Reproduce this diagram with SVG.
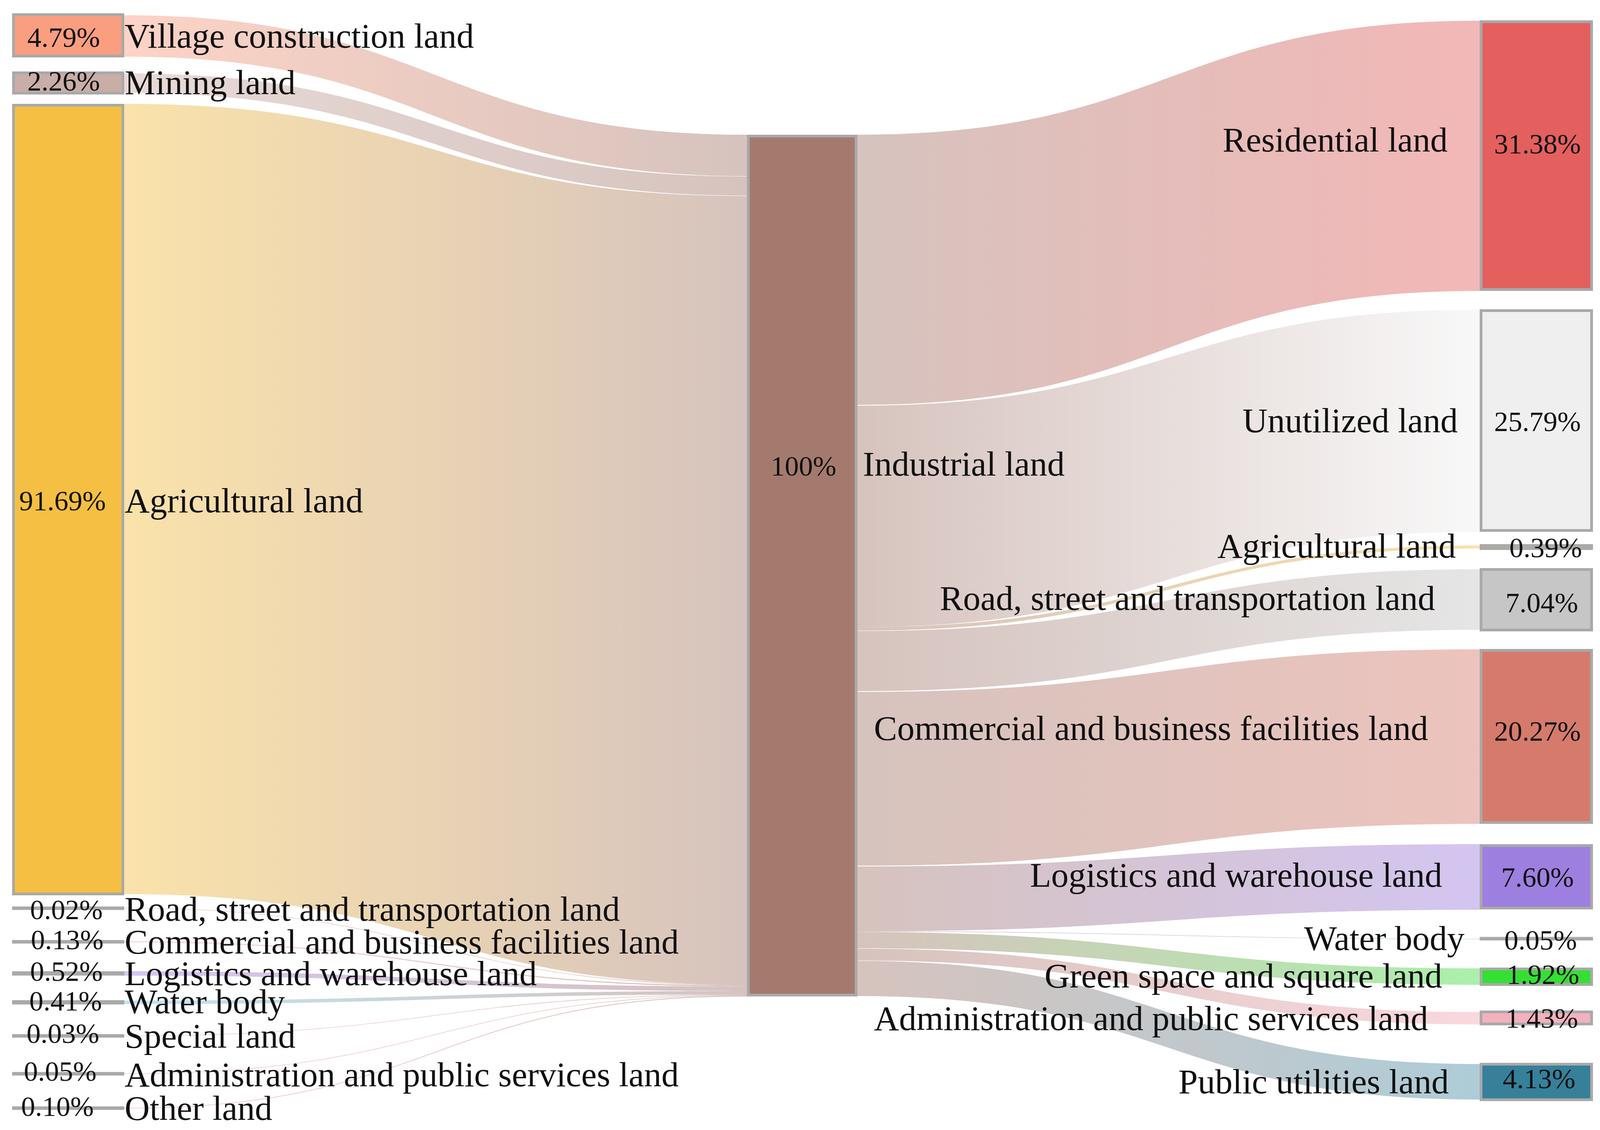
<svg xmlns="http://www.w3.org/2000/svg" width="4106" height="2894" viewBox="0 0 4106 2894">
<style>
.lk{fill-opacity:.45;stroke:none}
.nd{stroke:#A9A9A9;stroke-width:7}
.lb{font-family:"Liberation Serif","Times New Roman",serif;font-size:89px;fill:#111}
.pc{font-family:"Liberation Serif","Times New Roman",serif;font-size:72px;fill:#111;text-anchor:middle}
.r{text-anchor:end}
</style>
<defs>
<linearGradient id="gV" gradientUnits="userSpaceOnUse" x1="318" y1="0" x2="1912" y2="0"><stop offset="0" stop-color="#FA9E80"/><stop offset="1" stop-color="#A57A6E"/></linearGradient>
<linearGradient id="gM" gradientUnits="userSpaceOnUse" x1="318" y1="0" x2="1912" y2="0"><stop offset="0" stop-color="#C9ADA7"/><stop offset="1" stop-color="#A57A6E"/></linearGradient>
<linearGradient id="gA" gradientUnits="userSpaceOnUse" x1="318" y1="0" x2="1912" y2="0"><stop offset="0" stop-color="#F4BF42"/><stop offset="1" stop-color="#A57A6E"/></linearGradient>
<linearGradient id="gLr" gradientUnits="userSpaceOnUse" x1="318" y1="0" x2="1912" y2="0"><stop offset="0" stop-color="#E8A8A8"/><stop offset="1" stop-color="#A57A6E"/></linearGradient>
<linearGradient id="gLl" gradientUnits="userSpaceOnUse" x1="318" y1="0" x2="1912" y2="0"><stop offset="0" stop-color="#9D7FE0"/><stop offset="1" stop-color="#A57A6E"/></linearGradient>
<linearGradient id="gLw" gradientUnits="userSpaceOnUse" x1="318" y1="0" x2="1912" y2="0"><stop offset="0" stop-color="#6EC3E6"/><stop offset="1" stop-color="#A57A6E"/></linearGradient>
<linearGradient id="gRr" gradientUnits="userSpaceOnUse" x1="2195" y1="0" x2="3788" y2="0"><stop offset="0" stop-color="#A57A6E"/><stop offset="1" stop-color="#E3605E"/></linearGradient>
<linearGradient id="gRu" gradientUnits="userSpaceOnUse" x1="2195" y1="0" x2="3788" y2="0"><stop offset="0" stop-color="#A57A6E"/><stop offset="1" stop-color="#F0F0F0"/></linearGradient>
<linearGradient id="gRa" gradientUnits="userSpaceOnUse" x1="2195" y1="0" x2="3788" y2="0"><stop offset="0" stop-color="#A57A6E"/><stop offset="1" stop-color="#F4BF42"/></linearGradient>
<linearGradient id="gRt" gradientUnits="userSpaceOnUse" x1="2195" y1="0" x2="3788" y2="0"><stop offset="0" stop-color="#A57A6E"/><stop offset="1" stop-color="#C6C6C6"/></linearGradient>
<linearGradient id="gRc" gradientUnits="userSpaceOnUse" x1="2195" y1="0" x2="3788" y2="0"><stop offset="0" stop-color="#A57A6E"/><stop offset="1" stop-color="#D67B6C"/></linearGradient>
<linearGradient id="gRl" gradientUnits="userSpaceOnUse" x1="2195" y1="0" x2="3788" y2="0"><stop offset="0" stop-color="#A57A6E"/><stop offset="1" stop-color="#9D7FE0"/></linearGradient>
<linearGradient id="gRw" gradientUnits="userSpaceOnUse" x1="2195" y1="0" x2="3788" y2="0"><stop offset="0" stop-color="#A57A6E"/><stop offset="1" stop-color="#6EC3E6"/></linearGradient>
<linearGradient id="gRg" gradientUnits="userSpaceOnUse" x1="2195" y1="0" x2="3788" y2="0"><stop offset="0" stop-color="#A57A6E"/><stop offset="1" stop-color="#44DD44"/></linearGradient>
<linearGradient id="gRd" gradientUnits="userSpaceOnUse" x1="2195" y1="0" x2="3788" y2="0"><stop offset="0" stop-color="#A57A6E"/><stop offset="1" stop-color="#F3A8B6"/></linearGradient>
<linearGradient id="gRp" gradientUnits="userSpaceOnUse" x1="2195" y1="0" x2="3788" y2="0"><stop offset="0" stop-color="#A57A6E"/><stop offset="1" stop-color="#4A8FA8"/></linearGradient>
</defs>
<rect width="4106" height="2894" fill="#fff"/>
<g id="connectors">
<path class="lk" fill="url(#gV)" d="M318,39 C1115,39 1115,345 1912,345 L1912,451 C1115,451 1115,145 318,145 Z"/>
<path class="lk" fill="url(#gM)" d="M318,188 C1115,188 1115,452 1912,452 L1912,501 C1115,501 1115,238 318,238 Z"/>
<path class="lk" fill="url(#gA)" d="M318,266 C1115,266 1115,502 1912,502 L1912,2522 C1115,2522 1115,2290 318,2290 Z"/>
<path class="lk" fill="url(#gLr)" d="M318,2325.2 C1115,2325.2 1115,2522 1912,2522 L1912,2523.5 C1115,2523.5 1115,2326.8 318,2326.8 Z"/>
<path class="lk" fill="url(#gLr)" d="M318,2410.5 C1115,2410.5 1115,2523.5 1912,2523.5 L1912,2526.5 C1115,2526.5 1115,2413.5 318,2413.5 Z"/>
<path class="lk" fill="url(#gLl)" d="M318,2487.3 C1115,2487.3 1115,2526.5 1912,2526.5 L1912,2538 C1115,2538 1115,2498.7 318,2498.7 Z"/>
<path class="lk" fill="url(#gLw)" d="M318,2562.5 C1115,2562.5 1115,2538 1912,2538 L1912,2547 C1115,2547 1115,2571.5 318,2571.5 Z"/>
<path class="lk" fill="url(#gLr)" d="M318,2652.2 C1115,2652.2 1115,2547 1912,2547 L1912,2548.5 C1115,2548.5 1115,2653.8 318,2653.8 Z"/>
<path class="lk" fill="url(#gLr)" d="M318,2749.2 C1115,2749.2 1115,2548.5 1912,2548.5 L1912,2550 C1115,2550 1115,2750.8 318,2750.8 Z"/>
<path class="lk" fill="url(#gLr)" d="M318,2836.9 C1115,2836.9 1115,2550 1912,2550 L1912,2552.2 C1115,2552.2 1115,2839.1 318,2839.1 Z"/>
<path class="lk" fill="url(#gRr)" d="M2195,345 C2991.5,345 2991.5,53 3788,53 L3788,745 C2991.5,745 2991.5,1037 2195,1037 Z"/>
<path class="lk" fill="url(#gRu)" d="M2195,1039 C2991.5,1039 2991.5,793 3788,793 L3788,1362 C2991.5,1362 2991.5,1606 2195,1606 Z"/>
<path class="lk" fill="url(#gRa)" d="M2195,1606 C2991.5,1606 2991.5,1397 3788,1397 L3788,1405 C2991.5,1405 2991.5,1615 2195,1615 Z"/>
<path class="lk" fill="url(#gRt)" d="M2195,1616 C2991.5,1616 2991.5,1458 3788,1458 L3788,1613 C2991.5,1613 2991.5,1770 2195,1770 Z"/>
<path class="lk" fill="url(#gRc)" d="M2195,1772 C2991.5,1772 2991.5,1663 3788,1663 L3788,2110 C2991.5,2110 2991.5,2217 2195,2217 Z"/>
<path class="lk" fill="url(#gRl)" d="M2195,2219 C2991.5,2219 2991.5,2162 3788,2162 L3788,2330 C2991.5,2330 2991.5,2385 2195,2385 Z"/>
<path class="lk" fill="url(#gRw)" d="M2195,2385 C2991.5,2385 2991.5,2404 3788,2404 L3788,2405.5 C2991.5,2405.5 2991.5,2386.5 2195,2386.5 Z"/>
<path class="lk" fill="url(#gRg)" d="M2195,2387 C2991.5,2387 2991.5,2480 3788,2480 L3788,2522 C2991.5,2522 2991.5,2428.5 2195,2428.5 Z"/>
<path class="lk" fill="url(#gRd)" d="M2195,2429.5 C2991.5,2429.5 2991.5,2592 3788,2592 L3788,2623.5 C2991.5,2623.5 2991.5,2460 2195,2460 Z"/>
<path class="lk" fill="url(#gRp)" d="M2195,2461 C2991.5,2461 2991.5,2725 3788,2725 L3788,2816 C2991.5,2816 2991.5,2551 2195,2551 Z"/>
</g>
<g id="n-village"><rect class="nd" x="34.5" y="37.5" width="280" height="106" fill="#FA9E80"/><text class="pc" x="163" y="120">4.79%</text><text class="lb" x="319" y="122">Village construction land</text></g>
<g id="n-mining"><rect class="nd" x="34.5" y="186.5" width="280" height="52" fill="#C9ADA7"/><text class="pc" x="163" y="232">2.26%</text><text class="lb" x="319" y="241">Mining land</text></g>
<g id="n-agri-l"><rect class="nd" x="34.5" y="269.5" width="280" height="2020" fill="#F4BF42"/><text class="pc" x="160" y="1307">91.69%</text><text class="lb" x="319" y="1312">Agricultural land</text></g>
<g id="n-road-l"><rect class="nd" x="34.5" y="2325" width="280" height="2" fill="#C8B0B0"/><text class="pc" x="170" y="2354">0.02%</text><text class="lb" x="319" y="2358">Road, street and transportation land</text></g>
<g id="n-comm-l"><rect class="nd" x="34.5" y="2411" width="280" height="2" fill="#C8A8A8"/><text class="pc" x="172" y="2431">0.13%</text><text class="lb" x="319" y="2442">Commercial and business facilities land</text></g>
<g id="n-log-l"><rect class="nd" x="34.5" y="2491" width="280" height="4" fill="#9D7FE0"/><text class="pc" x="170" y="2512">0.52%</text><text class="lb" x="319" y="2523">Logistics and warehouse land</text></g>
<g id="n-water-l"><rect class="nd" x="34.5" y="2565" width="280" height="4" fill="#8FB0C0"/><text class="pc" x="168" y="2588">0.41%</text><text class="lb" x="319" y="2595">Water body</text></g>
<g id="n-special-l"><rect class="nd" x="34.5" y="2652" width="280" height="2" fill="#C0B0B0"/><text class="pc" x="161" y="2671">0.03%</text><text class="lb" x="319" y="2683">Special land</text></g>
<g id="n-admin-l"><rect class="nd" x="34.5" y="2749" width="280" height="2" fill="#C8B0B4"/><text class="pc" x="154" y="2768">0.05%</text><text class="lb" x="319" y="2782">Administration and public services land</text></g>
<g id="n-other-l"><rect class="nd" x="34.5" y="2837" width="280" height="2" fill="#C0B0B0"/><text class="pc" x="147" y="2858">0.10%</text><text class="lb" x="319" y="2868">Other land</text></g>
<g id="n-industrial"><rect class="nd" x="1915.5" y="348.5" width="276" height="2200" fill="#A57A6E"/><text class="pc" x="2057" y="1218">100%</text><text class="lb" x="2209" y="1218">Industrial land</text></g>
<g id="n-residential"><rect class="nd" x="3791.5" y="55.5" width="283" height="686" fill="#E3605E"/><text class="lb r" x="3706" y="388">Residential land</text><text class="pc" x="3936" y="393">31.38%</text></g>
<g id="n-unutilized"><rect class="nd" x="3791.5" y="795.5" width="283" height="563" fill="#EFEFEF"/><text class="lb r" x="3732" y="1107">Unutilized land</text><text class="pc" x="3936" y="1104">25.79%</text></g>
<g id="n-agri-r"><rect class="nd" x="3791.5" y="1397" width="283" height="8" fill="#C2B08A"/><text class="lb r" x="3727" y="1428">Agricultural land</text><text class="pc" x="3957" y="1427">0.39%</text></g>
<g id="n-road-r"><rect class="nd" x="3791.5" y="1458.5" width="283" height="155" fill="#C6C6C6"/><text class="lb r" x="3674" y="1562">Road, street and transportation land</text><text class="pc" x="3947" y="1568">7.04%</text></g>
<g id="n-comm-r"><rect class="nd" x="3791.5" y="1665.5" width="283" height="441" fill="#D67B6C"/><text class="lb r" x="3656" y="1895">Commercial and business facilities land</text><text class="pc" x="3936" y="1897">20.27%</text></g>
<g id="n-log-r"><rect class="nd" x="3791.5" y="2165.5" width="283" height="160" fill="#9D7FE0"/><text class="lb r" x="3692" y="2271">Logistics and warehouse land</text><text class="pc" x="3936" y="2271">7.60%</text></g>
<g id="n-water-r"><rect class="nd" x="3791.5" y="2403" width="283" height="2" fill="#B0B0B0"/><text class="lb r" x="3749" y="2433">Water body</text><text class="pc" x="3944" y="2432">0.05%</text></g>
<g id="n-green-r"><rect class="nd" x="3791.5" y="2481.5" width="283" height="40" fill="#33E033"/><text class="lb r" x="3692" y="2529">Green space and square land</text><text class="pc" x="3950" y="2520">1.92%</text></g>
<g id="n-admin-r"><rect class="nd" x="3791.5" y="2591.5" width="283" height="31" fill="#F3B1BC"/><text class="lb r" x="3656" y="2638">Administration and public services land</text><text class="pc" x="3947" y="2632">1.43%</text></g>
<g id="n-public-r"><rect class="nd" x="3791.5" y="2725.5" width="283" height="91" fill="#36809A"/><text class="lb r" x="3709" y="2800">Public utilities land</text><text class="pc" x="3940" y="2787">4.13%</text></g>
</svg>
